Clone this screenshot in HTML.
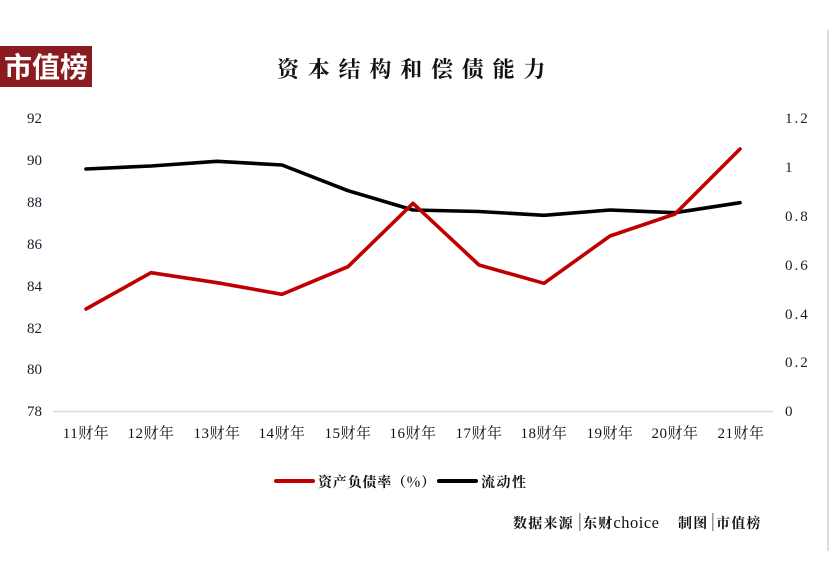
<!DOCTYPE html>
<html>
<head>
<meta charset="utf-8">
<style>
html,body{margin:0;padding:0;background:#fff;}
body{width:830px;height:582px;overflow:hidden;position:relative;}
svg{position:absolute;left:0;top:0;}
</style>
</head>
<body>
<svg width="830" height="582" viewBox="0 0 830 582" xmlns="http://www.w3.org/2000/svg">
  <rect x="0" y="0" width="830" height="582" fill="#fff"/>
  <!-- right border line -->
  <rect x="827" y="30" width="2" height="521" fill="#dedede"/>
  <!-- logo -->
  <rect x="0" y="46" width="92" height="41" fill="#8a1c20"/>
  <text x="46" y="77" text-anchor="middle" font-family="'Noto Sans CJK SC', sans-serif" font-weight="bold" font-size="28" fill="#fff">市值榜</text>
  <!-- title -->
  <text x="277" y="77" font-family="'Noto Serif CJK SC', serif" font-weight="bold" font-size="22" letter-spacing="8.8" fill="#111">资本结构和偿债能力</text>

  <!-- axis line -->
  <line x1="53" y1="411.5" x2="773" y2="411.5" stroke="#d9d9d9" stroke-width="1.5"/>

  <!-- left axis labels -->
  <g font-family="'Liberation Serif', serif" font-size="15" fill="#1a1a2e" text-anchor="end">
    <text x="42" y="123">92</text>
    <text x="42" y="165">90</text>
    <text x="42" y="207">88</text>
    <text x="42" y="249">86</text>
    <text x="42" y="291">84</text>
    <text x="42" y="333">82</text>
    <text x="42" y="374">80</text>
    <text x="42" y="416">78</text>
  </g>
  <!-- right axis labels -->
  <g font-family="'Liberation Serif', serif" font-size="15" fill="#1a1a2e" letter-spacing="2">
    <text x="785" y="123">1.2</text>
    <text x="785" y="172">1</text>
    <text x="785" y="221">0.8</text>
    <text x="785" y="270">0.6</text>
    <text x="785" y="319">0.4</text>
    <text x="785" y="367">0.2</text>
    <text x="785" y="416">0</text>
  </g>

  <!-- x labels -->
  <g font-family="'Liberation Serif', 'Noto Serif CJK SC', serif" font-size="15" fill="#111" text-anchor="middle" letter-spacing="0.5">
    <text x="86" y="438">11财年</text>
    <text x="151" y="438">12财年</text>
    <text x="217" y="438">13财年</text>
    <text x="282" y="438">14财年</text>
    <text x="348" y="438">15财年</text>
    <text x="413" y="438">16财年</text>
    <text x="479" y="438">17财年</text>
    <text x="544" y="438">18财年</text>
    <text x="610" y="438">19财年</text>
    <text x="675" y="438">20财年</text>
    <text x="741" y="438">21财年</text>
  </g>

  <!-- black series -->
  <polyline fill="none" stroke="#000" stroke-width="3.6" stroke-linejoin="round" stroke-linecap="round"
    points="86,169 151,166 217,161.3 282,165 348,190.7 413,210 479,211.5 544,215.3 610,210 675,212.7 740,202.7"/>
  <!-- red series -->
  <polyline fill="none" stroke="#c00000" stroke-width="3.6" stroke-linejoin="round" stroke-linecap="round"
    points="86,309 151,272.7 217,282.7 282,294.3 348,266.7 413,203.3 479,265 544,283.3 610,236 675,214 740,149"/>

  <!-- legend -->
  <line x1="276" y1="481" x2="313" y2="481" stroke="#c00000" stroke-width="4" stroke-linecap="round"/>
  <text x="318" y="487" font-family="'Noto Serif CJK SC', serif" font-weight="bold" font-size="14" letter-spacing="0.8" fill="#111">资产负债率（%）</text>
  <line x1="439" y1="481" x2="476" y2="481" stroke="#000" stroke-width="4" stroke-linecap="round"/>
  <text x="481" y="487" font-family="'Noto Serif CJK SC', serif" font-weight="bold" font-size="14" letter-spacing="1.5" fill="#111">流动性</text>

  <!-- footer -->
  <g font-family="'Noto Serif CJK SC', serif" font-weight="bold" font-size="14" fill="#111" letter-spacing="1.2">
    <text x="513" y="528">数据来源</text>
    <text x="583" y="528">东财<tspan font-family="'Liberation Serif', serif" font-weight="normal" font-size="16.5" letter-spacing="0.5">choice</tspan></text>
    <text x="678" y="528">制图</text>
    <text x="716" y="528">市值榜</text>
  </g>
  <rect x="579" y="513" width="1.5" height="18" fill="#9a8fa8"/>
  <rect x="712" y="513" width="1.5" height="18" fill="#9a8fa8"/>
</svg>
</body>
</html>
